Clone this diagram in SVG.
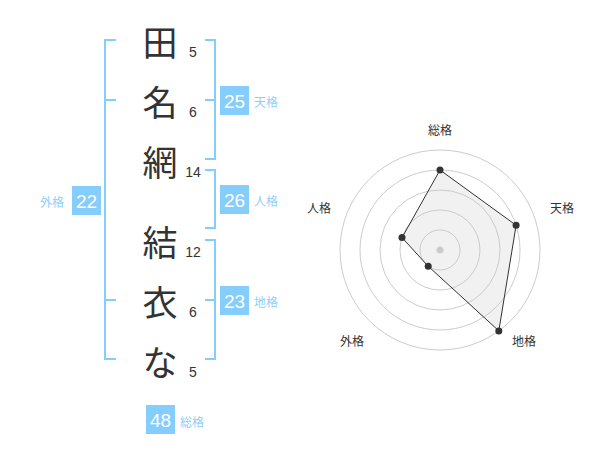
<svg xmlns="http://www.w3.org/2000/svg" width="600" height="470" viewBox="0 0 600 470">
<style>
.ch{font-family:"Noto Sans CJK JP","Noto Sans",sans-serif;font-size:35px;fill:#333;text-anchor:middle;dominant-baseline:central}
.st{font-family:"Liberation Sans",Arial,sans-serif;font-size:14px;fill:#333;text-anchor:middle}
.br{fill:none;stroke:#85cdfb;stroke-width:2}
.box{fill:#85cdfb}
.bn{font-family:"Liberation Sans",Arial,sans-serif;font-size:19px;fill:#fff;text-anchor:middle;dominant-baseline:central}
.lb{font-family:"Noto Sans CJK JP",sans-serif;font-size:12px;fill:#8ecffa}
.ring{fill:none;stroke:#ccc;stroke-width:1}
.rl{font-family:"Noto Sans CJK JP",sans-serif;font-size:12px;fill:#333;text-anchor:middle}
.pt{fill:#333}
</style>
<g id="connectors">
<path class="br" d="M116,40 H105 V359 H116 M105,100 H116 M105,300 H116"/>
<path class="br" d="M205,40 H215 V159 H205 M215,100 H205"/>
<path class="br" d="M205,170 H215 V228 H205"/>
<path class="br" d="M205,240 H215 V359 H205 M215,300 H205"/>
</g>
<g id="chars">
<g id="c1"><text class="ch" x="160" y="40">田</text><text class="st" x="193" y="57">5</text></g>
<g id="c2"><text class="ch" x="160" y="100">名</text><text class="st" x="193" y="117">6</text></g>
<g id="c3"><text class="ch" x="160" y="160">網</text><text class="st" x="193" y="177">14</text></g>
<g id="c4"><text class="ch" x="160" y="240">結</text><text class="st" x="193" y="257">12</text></g>
<g id="c5"><text class="ch" x="160" y="300">衣</text><text class="st" x="193" y="317">6</text></g>
<g id="c6"><text class="ch" x="160" y="360">な</text><text class="st" x="193" y="377">5</text></g>
</g>
<g id="tenkaku"><rect class="box" x="220" y="86" width="29" height="29"/><text class="bn" x="234.5" y="101">25</text><text class="lb" x="254" y="107">天格</text></g>
<g id="jinkaku"><rect class="box" x="220" y="185" width="29" height="29"/><text class="bn" x="234.5" y="200">26</text><text class="lb" x="254" y="206">人格</text></g>
<g id="chikaku"><rect class="box" x="220" y="286" width="29" height="29"/><text class="bn" x="234.5" y="301">23</text><text class="lb" x="254" y="307">地格</text></g>
<g id="gaikaku"><rect class="box" x="72" y="186" width="29" height="29"/><text class="bn" x="86.5" y="201">22</text><text class="lb" x="40" y="207">外格</text></g>
<g id="soukaku"><rect class="box" x="146" y="405" width="29" height="29"/><text class="bn" x="160.5" y="420">48</text><text class="lb" x="180" y="427">総格</text></g>
<g id="radar">
<circle class="ring" cx="440" cy="250" r="20"/>
<circle class="ring" cx="440" cy="250" r="40"/>
<circle class="ring" cx="440" cy="250" r="60"/>
<circle class="ring" cx="440" cy="250" r="80"/>
<circle class="ring" cx="440" cy="250" r="100"/>
<circle cx="440" cy="250" r="3.5" fill="#ccc"/>
<polygon points="440,170 516.1,225.3 498.8,330.9 428.2,266.2 402,237.6" fill="rgba(200,200,200,0.25)" stroke="#333" stroke-width="1"/>
<circle class="pt" cx="440" cy="170" r="3.5"/>
<circle class="pt" cx="516.1" cy="225.3" r="3.5"/>
<circle class="pt" cx="498.8" cy="330.9" r="3.5"/>
<circle class="pt" cx="428.2" cy="266.2" r="3.5"/>
<circle class="pt" cx="402" cy="237.6" r="3.5"/>
<text class="rl" x="440" y="135">総格</text>
<text class="rl" x="562" y="213">天格</text>
<text class="rl" x="524" y="346">地格</text>
<text class="rl" x="352" y="346">外格</text>
<text class="rl" x="319" y="213">人格</text>
</g>
</svg>
